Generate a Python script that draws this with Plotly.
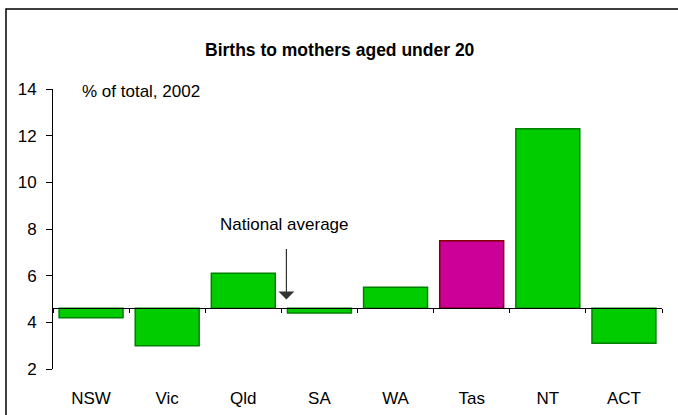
import plotly.graph_objects as go

states = ["NSW", "Vic", "Qld", "SA", "WA", "Tas", "NT", "ACT"]
values = [4.2, 3.0, 6.1, 4.4, 5.5, 7.5, 12.3, 3.1]
national_avg = 4.6
highlight = "Tas"
y_ticks = [2, 4, 6, 8, 10, 12, 14]

fill = ["#CC0099" if s == highlight else "#00CC00" for s in states]
edge = ["#800000" if s == highlight else "#008000" for s in states]

W, H = 678, 415
L, R, T, B = 53, 16, 89, 46
pw, ph = W - L - R, H - T - B
ymin, ymax = 2, 14

fig = go.Figure()
fig.add_trace(go.Bar(
    x=states,
    y=[v - national_avg for v in values],
    base=national_avg,
    marker=dict(color=fill, line=dict(color=edge, width=1.5)),
    width=0.84,
    hoverinfo="skip",
))
# invisible trace for bottom category labels axis
fig.add_trace(go.Scatter(
    x=states, y=[national_avg] * len(states), xaxis="x2",
    mode="markers", marker=dict(opacity=0), hoverinfo="skip", showlegend=False,
))

font = "Liberation Sans, Arial, sans-serif"
fig.update_layout(
    width=W, height=H,
    margin=dict(l=L, r=R, t=T, b=B),
    paper_bgcolor="white", plot_bgcolor="white",
    showlegend=False,
    font=dict(family=font, size=17, color="black"),
    xaxis=dict(
        type="category", categoryarray=states, range=[-0.5, 7.5],
        anchor="free", position=(national_avg - ymin) / (ymax - ymin),
        showline=True, linecolor="black", linewidth=1,
        ticks="outside", tickson="boundaries", ticklen=4, tickcolor="black",
        showticklabels=False, showgrid=False, zeroline=False, automargin=False,
    ),
    xaxis2=dict(
        type="category", categoryarray=states, range=[-0.5, 7.5],
        overlaying="x", anchor="y", side="bottom",
        showline=False, ticks="", showgrid=False, zeroline=False,
        ticklabelstandoff=17, tickfont=dict(size=17), automargin=False,
    ),
    yaxis=dict(
        range=[ymin, ymax], tickvals=y_ticks,
        showline=True, linecolor="black", linewidth=1,
        ticks="outside", ticklen=6, tickcolor="black",
        showgrid=False, zeroline=False, ticklabelstandoff=6,
        tickfont=dict(size=17), automargin=False,
    ),
)

fig.add_annotation(
    text="<b>Births to mothers aged under 20</b>",
    xref="paper", yref="paper",
    x=(340 - L) / pw, y=1 + (T - 50) / ph,
    showarrow=False, font=dict(size=17.5), xanchor="center", yanchor="middle",
)
fig.add_annotation(
    text="% of total, 2002",
    xref="paper", yref="paper",
    x=(80 - L) / pw, y=1 + (T - 92) / ph,
    showarrow=False, font=dict(size=17), xanchor="left", yanchor="middle",
)
fig.add_annotation(
    text="National average",
    xref="x", yref="y",
    x=2.54, y=8.2,
    showarrow=False, font=dict(size=17), xanchor="center", yanchor="middle",
)
fig.add_annotation(
    text="", xref="x", yref="y",
    x=2.566, y=4.98,
    ax=0, ay=-52,
    showarrow=True, arrowhead=1, arrowsize=2.2, arrowwidth=1.2, arrowcolor="#333333",
)

# outer frame
fig.add_shape(
    type="rect", xref="paper", yref="paper",
    x0=(6 - L) / pw, y0=-(B + 20) / ph, x1=1 + (R + 20) / pw, y1=1 + (T - 9) / ph,
    line=dict(color="black", width=1.5), fillcolor="rgba(0,0,0,0)", layer="below",
)

fig.write_html("out.html", config={"displayModeBar": False},
               post_script="document.body.style.margin='0';")
